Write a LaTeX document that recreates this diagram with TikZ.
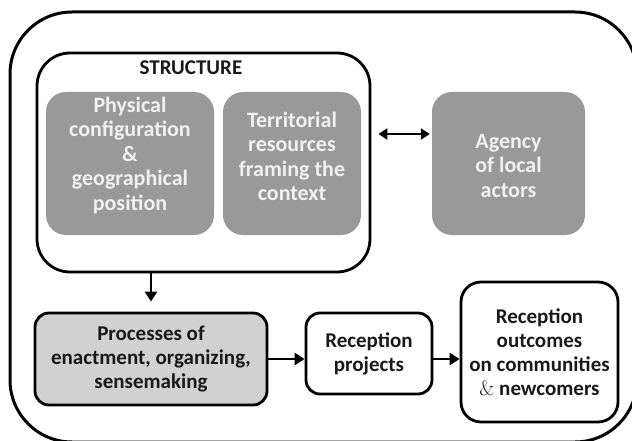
\documentclass[tikz,border=0pt]{standalone}
\usepackage{fontspec}
\setmainfont{Carlito}
\newfontfamily\ampfont{Latin Modern Roman}
\usetikzlibrary{positioning,arrows.meta}

\begin{document}
\begin{tikzpicture}[x=1pt,y=-1pt,
    box/.style={draw,line width=2.8pt,rounded corners=14pt,align=center},
    graybox/.style={fill=black!40,rounded corners=20pt,inner sep=0pt},
    graytext/.style={text=white!94!black,align=center,font=\bfseries\fontsize{22}{24.5}\selectfont},
    flow/.style={line width=2.8pt,-{Triangle[length=10pt,width=12pt]}},
    twoway/.style={line width=2.6pt,{Triangle[length=9pt,width=11pt]}-{Triangle[length=9pt,width=11pt]}}]
        \useasboundingbox (0,0) rectangle (632,441);
        \tikzstyle{every node} = [font=\bfseries\fontsize{21}{24}\selectfont,text=black!90]
        % outer frame, cut by the page edge
        \draw[line width=3pt,rounded corners=62pt] (10,12) rectangle (637,442);
        \node[box,rounded corners=33pt,minimum width=333pt,minimum height=219pt] (structure) at (203.5,162.5) {};
        \node (structlabel) at (191,68) {STRUCTURE};
        \node[graybox,minimum width=168pt,minimum height=143pt] (physical) at (130,163.5) {};
        \node[graybox,minimum width=138pt,minimum height=143pt] (territorial) at (292,163.5) {};
        \node[graybox,minimum width=153pt,minimum height=143pt] (agency) at (508.5,163.5) {};
        \node[graytext] (physicaltext) at ([yshift=8pt]physical.center) {Physical\\configuration\\\&\\geographical\\position};
        \node[graytext] (territorialtext) at ([yshift=7pt]territorial.center) {Territorial\\resources\\framing the\\context};
        \node[graytext] (agencytext) at ([yshift=-2pt]agency.center) {Agency\\of local\\actors};
        \node[box,fill=black!18,minimum width=232pt,minimum height=92pt] (processes) at (151,359) {Processes of\\enactment, organizing,\\sensemaking};
        \node[box,minimum width=126pt,minimum height=81pt] (projects) at (369,353.5) {Reception\\projects};
        \node[box,rounded corners=20pt,minimum width=157pt,minimum height=140pt] (outcomes) at (539.5,352) {Reception\\outcomes\\on communities\\{\mdseries\ampfont\&} newcomers};
        \coordinate (link) at (0,134);
        \draw[twoway] ([xshift=7pt]link -| structure.east) -- ([xshift=-2pt]link -| agency.west);
        \draw[flow,shorten >=10pt] (structure.south -| processes.north) to (processes.north);
        \draw[flow] (processes.east) to (processes.east -| projects.west);
        \draw[flow] (projects.east |- processes.east) to (processes.east -| outcomes.west);
      \end{tikzpicture}
\end{document}
